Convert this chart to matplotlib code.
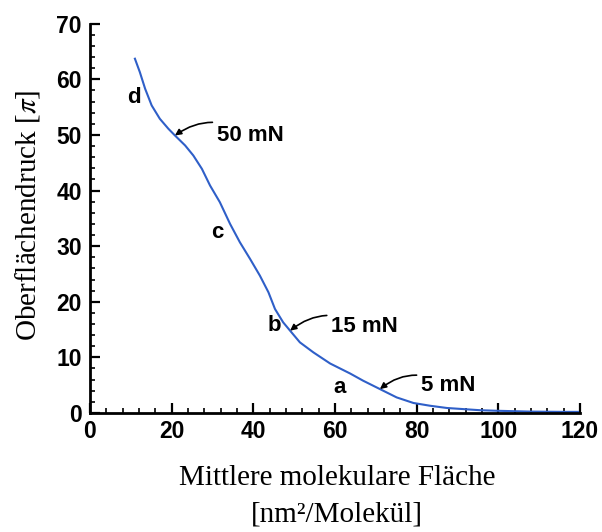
import matplotlib
matplotlib.use('Agg')
import matplotlib.pyplot as plt
from matplotlib.ticker import MultipleLocator

plt.rcParams['mathtext.fontset'] = 'stix'

# Isotherm
area = [11.0, 12.2, 13.5, 15.1, 17.1, 19.2, 20.8, 23.3, 25.3, 27.4, 29.4, 31.8,
        34.3, 36.7, 39.2, 41.6, 43.7, 45.3, 47.3, 49.0, 51.4, 54.7, 58.8, 63.7,
        66.9, 71.0, 75.1, 79.2, 83.3, 87.4, 91.4, 95.5, 99.6, 107.8, 115.9, 119.5]
pressure = [63.7, 61.3, 58.3, 55.3, 52.9, 51.1, 49.9, 48.1, 46.3, 43.9, 40.9, 37.9,
            34.0, 30.7, 27.7, 24.7, 21.7, 18.7, 16.3, 14.8, 12.7, 10.9, 8.9, 7.1,
            5.8, 4.3, 2.8, 1.8, 1.3, 0.9, 0.7, 0.5, 0.4, 0.25, 0.2, 0.2]

phase_labels = ['d', 'c', 'b', 'a']
phase_x = [10.8, 31.2, 45.1, 61.0]
phase_y = [56.8, 32.5, 15.7, 4.6]

arrow_labels = ['50 mN', '15 mN', '5 mN']
arrow_head_x = [20.8, 49.0, 71.0]
arrow_head_y = [49.9, 14.8, 4.3]
arrow_text_x = [31.0, 59.0, 81.0]
arrow_text_y = [49.9, 15.6, 5.0]

fig = plt.figure(figsize=(6.02, 5.32), dpi=100)
ax = fig.add_axes([0.1495, 0.2237, 0.814, 0.7318])

ax.plot(area, pressure, color='#2f5fc8', lw=1.5)

for lab, x, y in zip(phase_labels, phase_x, phase_y):
    ax.text(x, y, lab, fontsize=16, fontweight='bold', family='Liberation Sans',
            ha='center', va='center')

for lab, hx, hy, tx, ty in zip(arrow_labels, arrow_head_x, arrow_head_y, arrow_text_x, arrow_text_y):
    ax.annotate(lab, xy=(hx, hy), xytext=(tx, ty), fontsize=16, fontweight='bold',
                family='Liberation Sans', ha='left', va='center',
                arrowprops=dict(arrowstyle='-|>', color='black', lw=1.2,
                                mutation_scale=9, shrinkA=1, shrinkB=0,
                                connectionstyle='arc3,rad=0.35'))

ax.set_xlim(0, 120)
ax.set_ylim(0, 70)
ax.xaxis.set_major_locator(MultipleLocator(20))
ax.xaxis.set_minor_locator(MultipleLocator(4))
ax.yaxis.set_major_locator(MultipleLocator(10))
ax.yaxis.set_minor_locator(MultipleLocator(2))

for s in ['top', 'right']:
    ax.spines[s].set_visible(False)
for s in ['left', 'bottom']:
    ax.spines[s].set_linewidth(2)

ax.tick_params(which='major', direction='in', length=7, width=1.6)
ax.tick_params(axis='y', which='major', pad=6)
ax.tick_params(axis='x', which='major', pad=5)
ax.tick_params(which='minor', direction='in', length=3.5, width=1.2)
for lbl in ax.get_xticklabels() + ax.get_yticklabels():
    lbl.set_family('Liberation Sans')
    lbl.set_fontweight('bold')
    lbl.set_fontsize(16.5)

fig.text(0.046, 0.596, r'Oberflächendruck [$\pi$]', rotation=90, ha='center', va='center',
         family='Liberation Serif', fontsize=21)
fig.text(0.56, 0.102, 'Mittlere molekulare Fläche', ha='center', va='center',
         family='Liberation Serif', fontsize=21)
fig.text(0.56, 0.032, '[nm²/Molekül]', ha='center', va='center',
         family='Liberation Serif', fontsize=21)

fig.savefig('out.png', dpi=100)
